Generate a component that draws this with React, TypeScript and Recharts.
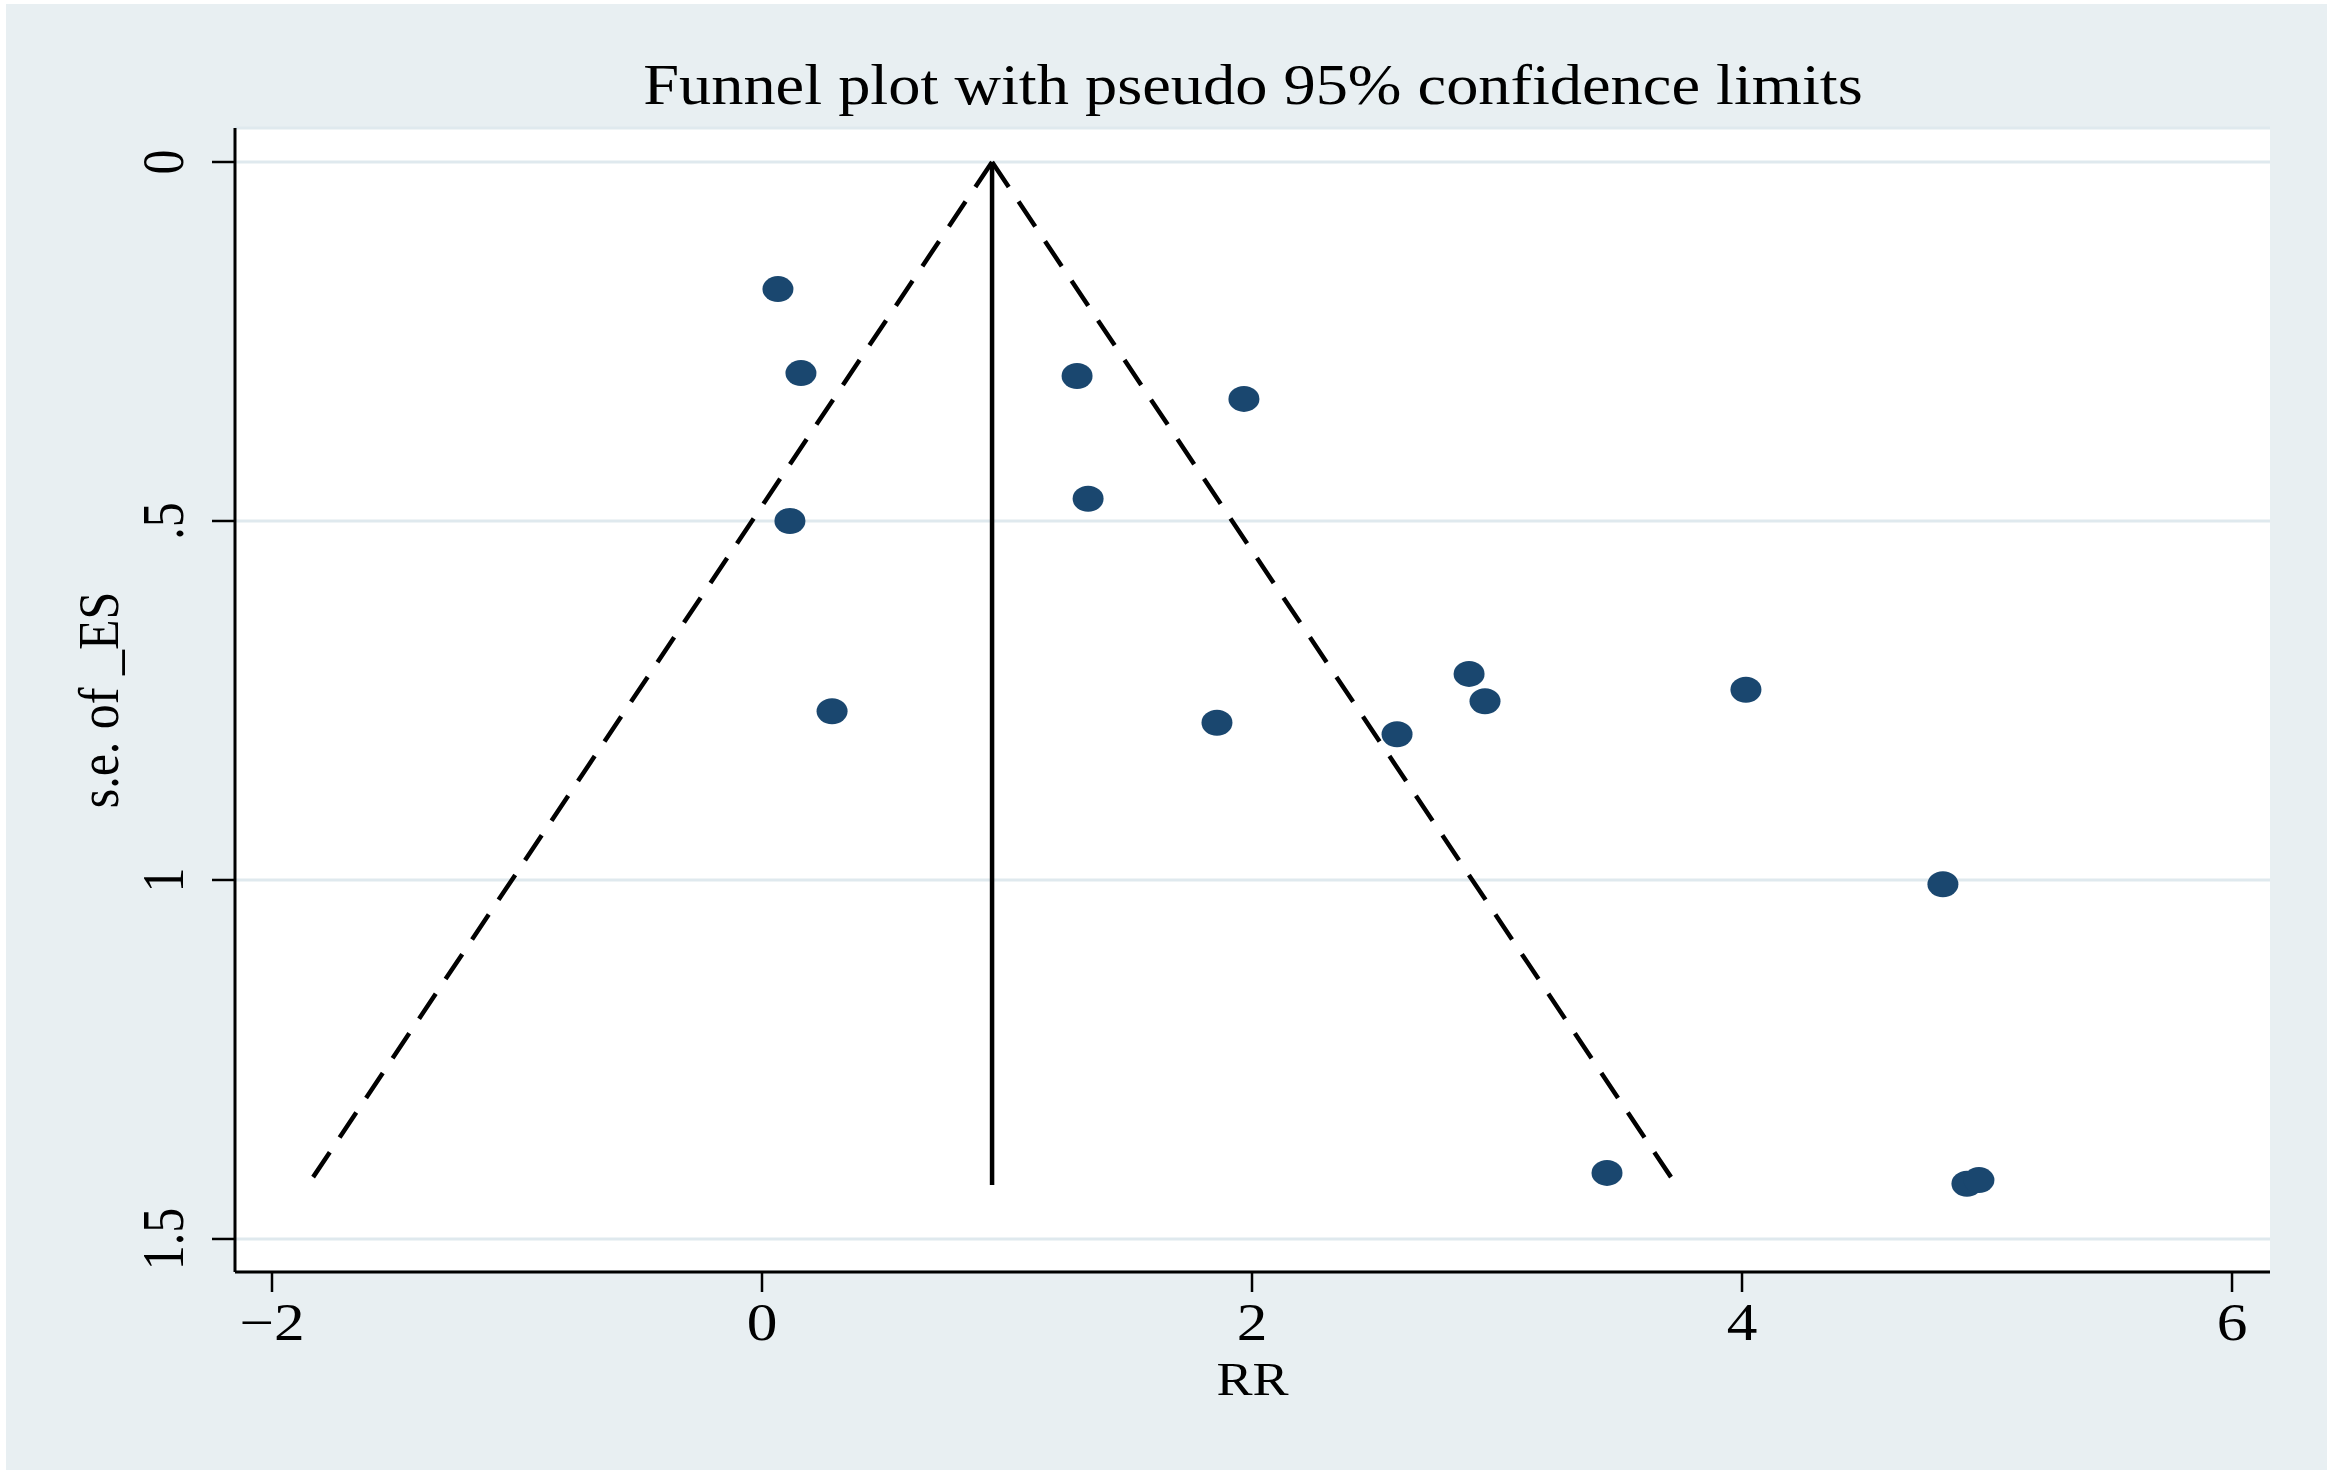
import React from 'react';
import { ScatterChart, Scatter, XAxis, YAxis, CartesianGrid, ReferenceLine } from 'recharts';

// ---- data ----
const rrValues = [0.065, 0.159, 0.114, 0.286, 1.286, 1.967, 1.331, 2.886, 2.951, 4.016, 1.857, 2.592, 4.82, 3.449, 4.918, 4.967];
const seValues = [0.177, 0.294, 0.5, 0.765, 0.298, 0.33, 0.469, 0.713, 0.751, 0.735, 0.781, 0.797, 1.006, 1.408, 1.423, 1.418];

const pooledES = 0.939;
const seMax = 1.425;
const z95 = 1.96;

const xTicks = [-2, 0, 2, 4, 6];
const xTickLabels = ['\u22122', '0', '2', '4', '6'];
const yTicks = [0, 0.5, 1, 1.5];
const yTickLabels = ['0', '.5', '1', '1.5'];

const titleText = 'Funnel plot with pseudo 95% confidence limits';
const xTitle = 'RR';
const yTitle = 's.e. of _ES';

const points = rrValues.map((x, i) => ({ x, y: seValues[i] }));

const FONT = '"Liberation Serif", "Times New Roman", serif';
const DOT = '#1a476f';
const PANEL = '#E8EFF2';
const GRID = '#DFE9EE';

const XTick = (props: any) => {
  const { x, y, payload } = props;
  const idx = xTicks.indexOf(payload.value);
  return (
    <text
      transform={`translate(${x},${y + 46}) scale(1.18,1)`}
      textAnchor="middle"
      fontFamily={FONT}
      fontSize={52}
      fill="#000"
    >
      {idx >= 0 ? xTickLabels[idx] : payload.value}
    </text>
  );
};

const YTick = (props: any) => {
  const { x, y, payload } = props;
  const idx = yTicks.indexOf(payload.value);
  return (
    <text
      transform={`translate(${x - 27},${y}) scale(1.18,1) rotate(-90)`}
      textAnchor="middle"
      fontFamily={FONT}
      fontSize={50}
      fill="#000"
    >
      {idx >= 0 ? yTickLabels[idx] : payload.value}
    </text>
  );
};

const XTitle = (props: any) => {
  const vb = props.viewBox || { x: 235, y: 1272, width: 2035 };
  const cx = vb.x + vb.width / 2;
  return (
    <text
      transform={`translate(${cx},${1395}) scale(1.15,1)`}
      textAnchor="middle"
      fontFamily={FONT}
      fontSize={47}
      fill="#000"
    >
      {xTitle}
    </text>
  );
};

const YTitle = (props: any) => {
  const vb = props.viewBox || { x: 0, y: 128, width: 235, height: 1144 };
  const cy = vb.y + vb.height / 2;
  return (
    <text
      transform={`translate(${118},${cy}) scale(1.15,1) rotate(-90)`}
      textAnchor="middle"
      fontFamily={FONT}
      fontSize={50}
      fill="#000"
    >
      {yTitle}
    </text>
  );
};

const Dot = (props: any) => {
  const { cx, cy } = props;
  if (cx == null || cy == null) return null;
  return <ellipse cx={cx} cy={cy} rx={15.5} ry={13} fill={DOT} />;
};

export default function App() {
  return (
    <div style={{ position: 'absolute', left: 0, top: 0, width: 2333, height: 1475, background: '#fff', overflow: 'hidden' }}>
      <div style={{ position: 'absolute', left: 6, top: 4, width: 2321, height: 1466, background: PANEL }} />
      <div style={{ position: 'absolute', left: 0, top: 0 }}>
        <ScatterChart width={2333} height={1475} margin={{ top: 128, right: 63, bottom: 83, left: 0 }}>
          <CartesianGrid horizontal={true} vertical={false} stroke={GRID} strokeWidth={3} fill="#ffffff" />
          <XAxis
            type="number"
            dataKey="x"
            domain={[-2.151, 6.155]}
            ticks={xTicks}
            allowDataOverflow
            height={120}
            tickSize={20}
            tickMargin={2}
            axisLine={{ stroke: '#000', strokeWidth: 3 }}
            tickLine={{ stroke: '#000', strokeWidth: 2.5 }}
            tick={<XTick />}
            interval={0}
            label={<XTitle />}
          />
          <YAxis
            type="number"
            dataKey="y"
            reversed
            domain={[-0.04735, 1.546]}
            ticks={yTicks}
            allowDataOverflow
            width={235}
            tickSize={23}
            tickMargin={2}
            axisLine={{ stroke: '#000', strokeWidth: 3 }}
            tickLine={{ stroke: '#000', strokeWidth: 2.5 }}
            tick={<YTick />}
            interval={0}
            label={<YTitle />}
          />
          <ReferenceLine
            segment={[{ x: pooledES, y: 0 }, { x: pooledES - z95 * seMax, y: seMax }]}
            stroke="#000"
            strokeWidth={4.5}
            strokeDasharray="30 17.65"
            ifOverflow="visible"
          />
          <ReferenceLine
            segment={[{ x: pooledES, y: 0 }, { x: pooledES + z95 * seMax, y: seMax }]}
            stroke="#000"
            strokeWidth={4.5}
            strokeDasharray="30 17.65"
            ifOverflow="visible"
          />
          <ReferenceLine
            segment={[{ x: pooledES, y: 0 }, { x: pooledES, y: seMax }]}
            stroke="#000"
            strokeWidth={4.5}
            ifOverflow="visible"
          />
          <Scatter data={points} shape={<Dot />} isAnimationActive={false} />
        </ScatterChart>
      </div>
      <div
        style={{
          position: 'absolute',
          left: 253,
          top: 56,
          width: 2000,
          textAlign: 'center',
          fontFamily: FONT,
          fontSize: 58,
          lineHeight: '58px',
          color: '#000',
          whiteSpace: 'nowrap',
          transform: 'scaleX(1.11)',
          transformOrigin: '50% 50%',
        }}
      >
        {titleText}
      </div>
    </div>
  );
}
